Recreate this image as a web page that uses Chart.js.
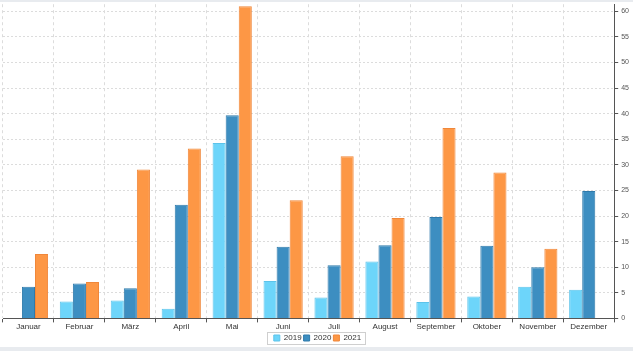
<!DOCTYPE html>
<html>
<head>
<meta charset="utf-8">
<script src="https://cdn.jsdelivr.net/npm/chart.js@4/dist/chart.umd.min.js"></script>
<style>
  html, body { margin: 0; padding: 0; background: #e8ebef; }
  #wrap { position: absolute; left: 0; top: 2px; width: 633px; height: 345px; background: #fff; overflow: hidden; }
  #chart { position: absolute; left: 0; top: -5px; }
</style>
</head>
<body>
<div id="wrap"><canvas id="chart" width="633" height="355"></canvas></div>
<script>
const months = ['Januar', 'Februar', 'März', 'April', 'Mai', 'Juni', 'Juli', 'August', 'September', 'Oktober', 'November', 'Dezember'];
const values2019 = [0, 3.3, 3.5, 1.9, 34.3, 7.3, 4.1, 11.1, 3.2, 4.3, 6.2, 5.6];
const values2020 = [6.2, 6.8, 5.9, 22.2, 39.7, 14.0, 10.4, 14.3, 19.8, 14.2, 10.0, 24.9];
const values2021 = [12.6, 7.1, 29.1, 33.2, 61.0, 23.1, 31.7, 19.6, 37.2, 28.5, 13.6, 0];
const yTickValues = [0, 5, 10, 15, 20, 25, 30, 35, 40, 45, 50, 55, 60];

const axisColor = '#555';
const gridColor = '#dcdcdc';

// thin frame around the legend items only
const legendFrame = {
  id: 'legendFrame',
  afterDraw(chart) {
    const boxes = chart.legend.legendHitBoxes;
    if (!boxes || !boxes.length) return;
    const left = Math.min(...boxes.map(b => b.left)) - 7;
    const right = Math.max(...boxes.map(b => b.left + b.width)) + 4;
    const top = Math.min(...boxes.map(b => b.top)) - 2;
    const bottom = Math.max(...boxes.map(b => b.top + b.height)) + 2;
    const ctx = chart.ctx;
    ctx.save();
    ctx.strokeStyle = '#cfcfcf';
    ctx.lineWidth = 1;
    ctx.strokeRect(Math.round(left) + 0.5, Math.round(top) + 0.5, Math.round(right - left), Math.round(bottom - top));
    ctx.restore();
  }
};

new Chart(document.getElementById('chart'), {
  type: 'bar',
  data: {
    labels: months,
    datasets: [
      { label: '2019', data: values2019, backgroundColor: '#6dd5fa', borderColor: '#5cc3ea', borderWidth: 1 },
      { label: '2020', data: values2020, backgroundColor: '#3d8ec1', borderColor: '#2f7aab', borderWidth: 1 },
      { label: '2021', data: values2021, backgroundColor: '#fd9745', borderColor: '#f0873a', borderWidth: 1 }
    ]
  },
  options: {
    responsive: false,
    animation: false,
    layout: { padding: { left: 3, right: 1, top: -4, bottom: 0 } },
    datasets: { bar: { categoryPercentage: 0.77, barPercentage: 1.0 } },
    plugins: {
      legend: {
        position: 'bottom',
        labels: {
          boxWidth: 6, boxHeight: 6, padding: 2,
          color: '#333',
          font: { family: 'Liberation Sans', size: 8 }
        }
      },
      tooltip: { enabled: false }
    },
    scales: {
      x: {
        grid: { color: gridColor, tickColor: axisColor, tickLength: 4, offset: true },
        border: { color: axisColor, dash: [3, 3] },
        ticks: { color: '#333', font: { family: 'Liberation Sans', size: 8 }, padding: 0, maxRotation: 0 }
      },
      y: {
        position: 'right',
        min: 0,
        max: 61.4,
        afterBuildTicks(scale) {
          scale.ticks = yTickValues.map(v => ({ value: v }));
        },
        grid: { color: gridColor, tickColor: axisColor, tickLength: 4 },
        border: { color: axisColor, dash: [2, 2] },
        ticks: { color: '#555', font: { family: 'Liberation Sans', size: 7 }, padding: 3 }
      }
    }
  },
  plugins: [legendFrame]
});
</script>
</body>
</html>
